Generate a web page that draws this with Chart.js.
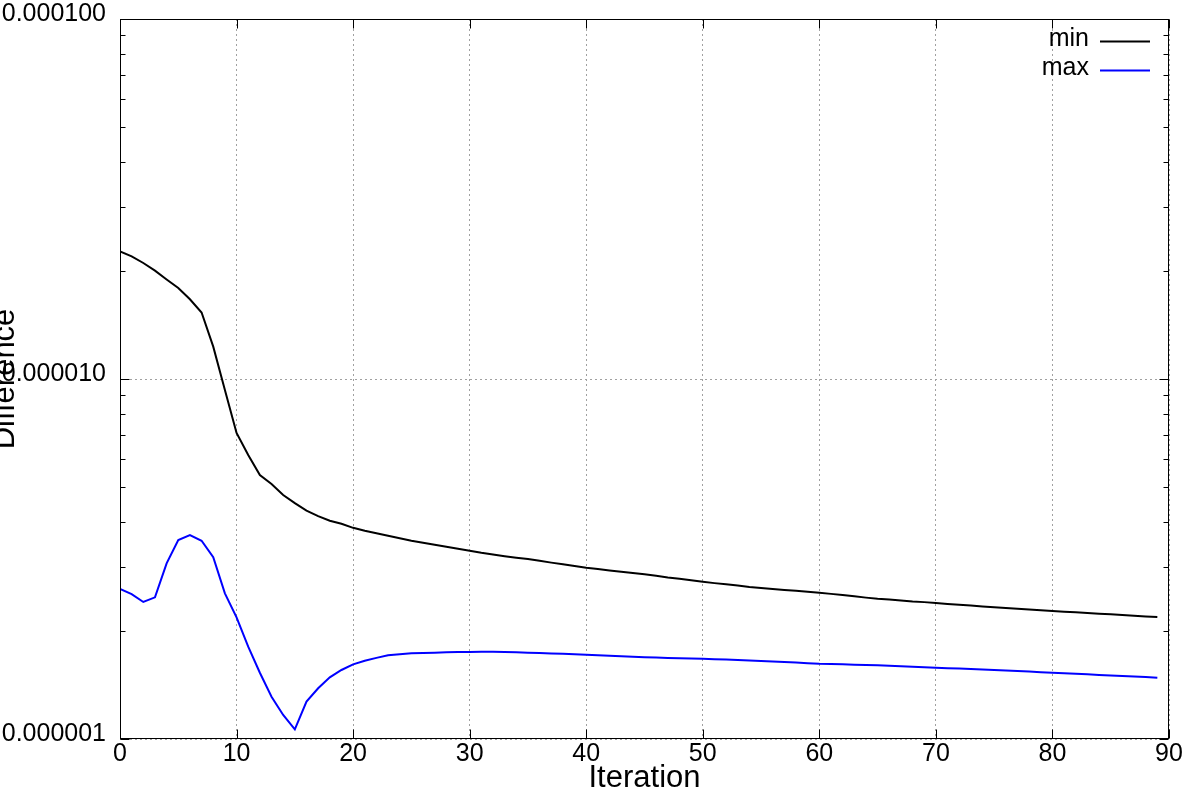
<!DOCTYPE html>
<html>
<head>
<meta charset="utf-8">
<title>Difference per iteration</title>
<script src="https://cdn.jsdelivr.net/npm/chart.js@4.4.0/dist/chart.umd.min.js"></script>
<style>
  html, body { margin: 0; padding: 0; background: #ffffff; }
  #wrap { width: 1200px; height: 800px; position: relative; }
</style>
</head>
<body>
<div id="wrap"><canvas id="diffChart"></canvas></div>
<script>
// Data
const iterations = [
   0,  1,  2,  3,  4,  5,  6,  7,  8,  9, 10, 11, 12, 13, 14, 15, 16, 17, 18, 19,
  20, 21, 22, 23, 24, 25, 26, 27, 28, 29, 30, 31, 32, 33, 34, 35, 36, 37, 38, 39,
  40, 41, 42, 43, 44, 45, 46, 47, 48, 49, 50, 51, 52, 53, 54, 55, 56, 57, 58, 59,
  60, 61, 62, 63, 64, 65, 66, 67, 68, 69, 70, 71, 72, 73, 74, 75, 76, 77, 78, 79,
  80, 81, 82, 83, 84, 85, 86, 87, 88, 89
];

const minDiff = [
  22.6e-6, 21.9e-6, 21.0e-6, 20.0e-6, 18.9e-6, 17.9e-6, 16.65e-6, 15.3e-6, 12.3e-6, 9.32e-6,
  7.08e-6, 6.15e-6, 5.41e-6, 5.11e-6, 4.76e-6, 4.52e-6, 4.31e-6, 4.16e-6, 4.04e-6, 3.96e-6,
  3.86e-6, 3.79e-6, 3.73e-6, 3.67e-6, 3.61e-6, 3.555e-6, 3.51e-6, 3.465e-6, 3.42e-6, 3.375e-6,
  3.334e-6, 3.29e-6, 3.255e-6, 3.22e-6, 3.19e-6, 3.162e-6, 3.125e-6, 3.09e-6, 3.06e-6, 3.025e-6,
  2.99e-6, 2.965e-6, 2.94e-6, 2.915e-6, 2.89e-6, 2.867e-6, 2.84e-6, 2.81e-6, 2.785e-6, 2.76e-6,
  2.734e-6, 2.71e-6, 2.69e-6, 2.67e-6, 2.645e-6, 2.626e-6, 2.61e-6, 2.595e-6, 2.58e-6, 2.565e-6,
  2.548e-6, 2.53e-6, 2.51e-6, 2.49e-6, 2.47e-6, 2.452e-6, 2.44e-6, 2.425e-6, 2.41e-6, 2.40e-6,
  2.386e-6, 2.373e-6, 2.36e-6, 2.347e-6, 2.334e-6, 2.321e-6, 2.31e-6, 2.30e-6, 2.29e-6, 2.278e-6,
  2.267e-6, 2.257e-6, 2.248e-6, 2.238e-6, 2.229e-6, 2.22e-6, 2.21e-6, 2.20e-6, 2.19e-6, 2.182e-6
];

const maxDiff = [
  2.61e-6, 2.527e-6, 2.402e-6, 2.475e-6, 3.076e-6, 3.57e-6, 3.686e-6, 3.554e-6, 3.197e-6, 2.539e-6,
  2.178e-6, 1.805e-6, 1.528e-6, 1.311e-6, 1.166e-6, 1.064e-6, 1.27e-6, 1.383e-6, 1.484e-6, 1.555e-6,
  1.612e-6, 1.65e-6, 1.68e-6, 1.708e-6, 1.72e-6, 1.73e-6, 1.734e-6, 1.737e-6, 1.741e-6, 1.744e-6,
  1.745e-6, 1.746e-6, 1.746e-6, 1.745e-6, 1.741e-6, 1.737e-6, 1.733e-6, 1.728e-6, 1.724e-6, 1.72e-6,
  1.715e-6, 1.709e-6, 1.703e-6, 1.697e-6, 1.691e-6, 1.686e-6, 1.683e-6, 1.68e-6, 1.677e-6, 1.674e-6,
  1.671e-6, 1.666e-6, 1.662e-6, 1.657e-6, 1.652e-6, 1.648e-6, 1.642e-6, 1.636e-6, 1.63e-6, 1.624e-6,
  1.618e-6, 1.615e-6, 1.612e-6, 1.608e-6, 1.605e-6, 1.602e-6, 1.597e-6, 1.592e-6, 1.588e-6, 1.583e-6,
  1.578e-6, 1.573e-6, 1.569e-6, 1.564e-6, 1.56e-6, 1.555e-6, 1.55e-6, 1.544e-6, 1.539e-6, 1.533e-6,
  1.528e-6, 1.523e-6, 1.518e-6, 1.512e-6, 1.507e-6, 1.502e-6, 1.497e-6, 1.491e-6, 1.486e-6, 1.48e-6
];

const seriesNames = ['min', 'max'];
const seriesColors = ['#000000', '#0000ff'];

const xTicks = [0, 10, 20, 30, 40, 50, 60, 70, 80, 90];
const yTicks = [1e-6, 1e-5, 1e-4];
const yTickLabels = ['0.000001', '0.000010', '0.000100'];

const FONT = '"Liberation Sans", Arial, Helvetica, sans-serif';

// gnuplot-like frame: full border, inward ticks (major + log minor), key in the top right
const gnuplotFrame = {
    id: 'gnuplotFrame',
    afterDatasetsDraw(chart) {
        const { ctx, chartArea: a, scales: { x, y } } = chart;
        const L = Math.round(a.left) + 0.5;
        const R = Math.round(a.right) - 0.5;
        const T = Math.round(a.top) + 0.5;
        const B = Math.round(a.bottom) - 0.5;

        ctx.save();
        ctx.strokeStyle = '#000';
        ctx.lineWidth = 1;
        ctx.setLineDash([]);
        ctx.beginPath();

        // x major ticks, bottom and top
        xTicks.forEach(v => {
            const px = Math.round(x.getPixelForValue(v)) + 0.5;
            ctx.moveTo(px, B); ctx.lineTo(px, B - 9);
            ctx.moveTo(px, T); ctx.lineTo(px, T + 9);
        });

        // y major + minor ticks, left and right
        for (let d = 0; d < yTicks.length; d++) {
            const base = yTicks[d];
            for (let k = 1; k <= 9; k++) {
                const v = base * k;
                if (v > y.max * 1.0001) break;
                const py = Math.round(y.getPixelForValue(v)) + 0.5;
                const len = k === 1 ? 9 : 5;
                ctx.moveTo(L, py); ctx.lineTo(L + len, py);
                ctx.moveTo(R, py); ctx.lineTo(R - len, py);
            }
        }
        ctx.stroke();

        // border
        ctx.strokeRect(L, T, R - L, B - T);

        // key
        ctx.font = '25px ' + FONT;
        ctx.textAlign = 'right';
        ctx.textBaseline = 'alphabetic';
        chart.data.datasets.forEach((ds, i) => {
            const base = a.top + 27 + i * 29;
            ctx.fillStyle = '#000';
            ctx.fillText(ds.label, a.right - 80, base);
            ctx.strokeStyle = ds.borderColor;
            ctx.lineWidth = 2;
            ctx.beginPath();
            ctx.moveTo(a.right - 69, base - 4.5);
            ctx.lineTo(a.right - 19, base - 4.5);
            ctx.stroke();
        });
        ctx.restore();
    }
};

const ctx = document.getElementById('diffChart').getContext('2d');
const diffChart = new Chart(ctx, {
    type: 'line',
    data: {
        labels: iterations,
        datasets: [
            {
                label: seriesNames[0],
                data: minDiff,
                borderColor: seriesColors[0],
                backgroundColor: seriesColors[0],
                borderWidth: 2,
                pointRadius: 0,
                tension: 0,
                fill: false
            },
            {
                label: seriesNames[1],
                data: maxDiff,
                borderColor: seriesColors[1],
                backgroundColor: seriesColors[1],
                borderWidth: 2,
                pointRadius: 0,
                tension: 0,
                fill: false
            }
        ]
    },
    options: {
        responsive: true,
        maintainAspectRatio: false,
        animation: false,
        layout: { padding: { left: 0, top: 19, right: 31, bottom: 0 } },
        plugins: {
            legend: { display: false },
            tooltip: { enabled: false }
        },
        scales: {
            x: {
                type: 'linear',
                min: 0,
                max: 90,
                afterBuildTicks: (scale) => { scale.ticks = xTicks.map(v => ({ value: v })); },
                afterFit: (scale) => {
                    scale.height = 61;
                    scale.paddingLeft = 0;
                    scale.paddingRight = 0;
                },
                ticks: {
                    color: '#000',
                    font: { family: FONT, size: 25 },
                    padding: 0,
                    maxRotation: 0,
                    autoSkip: false
                },
                grid: {
                    color: '#a0a0a0',
                    lineWidth: 1,
                    drawTicks: false
                },
                border: { display: false, dash: [2, 3] },
                title: {
                    display: true,
                    text: 'Iteration',
                    color: '#000',
                    font: { family: FONT, size: 31 },
                    padding: { top: 0, bottom: 3 }
                }
            },
            y: {
                type: 'logarithmic',
                min: 1e-6,
                max: 1e-4,
                afterBuildTicks: (scale) => { scale.ticks = yTicks.map(v => ({ value: v })); },
                afterFit: (scale) => {
                    scale.width = 120;
                    scale.paddingTop = 0;
                    scale.paddingBottom = 0;
                },
                ticks: {
                    color: '#000',
                    font: { family: FONT, size: 25, lineHeight: 0.4 },
                    padding: 14,
                    autoSkip: false,
                    callback: (value, index) => [yTickLabels[index], '']
                },
                grid: {
                    color: '#a0a0a0',
                    lineWidth: 1,
                    drawTicks: false
                },
                border: { display: false, dash: [2, 3] },
                title: {
                    display: true,
                    text: 'Difference',
                    color: '#000',
                    font: { family: FONT, size: 31, lineHeight: 0.33 },
                    padding: { top: 0, bottom: 0 }
                }
            }
        }
    },
    plugins: [gnuplotFrame]
});
</script>
</body>
</html>
